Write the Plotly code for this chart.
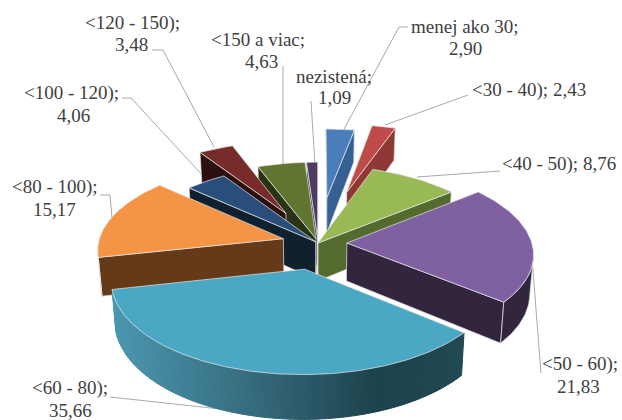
import numpy as np
import plotly.graph_objects as go

# ---- data ----
categories = ["menej ako 30", "<30 - 40)", "<40 - 50)", "<50 - 60)", "<60 - 80)",
              "<80 - 100)", "<100 - 120)", "<120 - 150)", "<150 a viac", "nezistená"]
values = [2.90, 2.43, 8.76, 21.83, 35.66, 15.17, 4.06, 3.48, 4.63, 1.09]
value_labels = ["2,90", "2,43", "8,76", "21,83", "35,66", "15,17", "4,06", "3,48", "4,63", "1,09"]

# ---- styling ----
explode = [0.56, 0.65, 0.0, 0.156, 0.30, 0.195, 0.02, 0.40, 0.05, 0.05]
top_colors = ["#4a7ebb", "#be4b48", "#98b954", "#7f60a1", "#4aa8c4",
              "#f69445", "#2a4e7b", "#772c2a", "#5f7530", "#4d3b62"]
side_colors = ["#376092", "#8f3836", "#556a2f", "#32263f", "#2a6070",
               "#643a19", "#0f202f", "#2c0f0f", "#2a3315", "#30243f"]
draw_order = [9, 8, 7, 0, 1, 2, 6, 5, 3, 4]
edge = "rgba(228,228,228,0.9)"

CX, CY, A, B, K, THICK, SHRINK = 318.0, 243.0, 185.0, 86.5, 0.117, 38.0, 0.983
GRAD = [(0.0, (75, 151, 176)), (0.5, (47, 95, 111)), (0.75, (28, 66, 76)), (1.0, (33, 73, 82))]


def project(X, Y):
    w = 1 + K * Y
    return CX + A * X / w, CY - B * Y / w, w


def lower(p):
    return CX + (p[0] - CX) * SHRINK, p[1] + THICK / p[2]


def grad_color(t):
    xs = [g[0] for g in GRAD]
    rgb = [np.interp(t, xs, [g[1][i] for g in GRAD]) for i in range(3)]
    return "rgb(%d,%d,%d)" % tuple(int(round(c)) for c in rgb)


fig = go.Figure()


def poly(xs, ys, fill, line=None, width=0.8):
    fig.add_trace(go.Scatter(
        x=list(xs), y=list(ys), mode="lines", fill="toself", fillcolor=fill,
        line=dict(color=line or fill, width=width), hoverinfo="skip", showlegend=False))


def side(path, fill, line=None, width=0.8):
    # hanging side face below a run of points of the top outline
    low = [lower(p) for p in path]
    xs = [p[0] for p in path] + [p[0] for p in low[::-1]] + [path[0][0]]
    ys = [p[1] for p in path] + [p[1] for p in low[::-1]] + [path[0][1]]
    poly(xs, ys, fill, line, width)


def faces_viewer(a, b):
    # top outline runs clockwise on screen; outward normal must point down the screen
    return (b[0] - a[0]) < 0


# ---- leader lines ----
leaders = [
    ([343, 399, 408], [131, 27, 27]),
    ([385, 468], [125, 95]),
    ([417, 500], [177, 171]),
    ([532, 541], [258, 373]),
    ([110, 257, 268], [397, 413, 415]),
    ([100, 110, 112], [195, 195, 218]),
    ([122, 131, 205], [98, 98, 178]),
    ([152, 163, 214], [50, 50, 147]),
    ([283, 283], [66, 166]),
    ([311, 315], [101, 165]),
]
for lx, ly in leaders:
    fig.add_trace(go.Scatter(x=lx, y=ly, mode="lines", line=dict(color="#a9a9a9", width=1),
                             hoverinfo="skip", showlegend=False))

# ---- wedges, computed from the values ----
total = sum(values)
edges = np.concatenate([[0], np.cumsum(values)]) / total * 2 * np.pi

for i in draw_order:
    t0, t1 = edges[i], edges[i + 1]
    mid = (t0 + t1) / 2
    ox, oy = explode[i] * np.sin(mid), explode[i] * np.cos(mid)
    thetas = np.linspace(t0, t1, max(4, int(np.degrees(t1 - t0)) + 1))
    arc = [project(ox + np.sin(t), oy + np.cos(t)) for t in thetas]
    tip = project(ox, oy)

    # only the side faces turned to the viewer are drawn
    if faces_viewer(tip, arc[0]):
        side([tip, arc[0]], side_colors[i], edge)
    if faces_viewer(arc[-1], tip):
        side([arc[-1], tip], side_colors[i], edge)
    front = [(a, b) for a, b in zip(arc[:-1], arc[1:]) if faces_viewer(a, b)]
    if categories[i] == "<60 - 80)":
        xmin = min(p[0] for p in arc)
        xmax = max(p[0] for p in arc)
        for a, b in front:
            c = grad_color(((a[0] + b[0]) / 2 - xmin) / (xmax - xmin))
            side([a, b], c, c, 1)
    elif front:
        path = [front[0][0]] + [b for _, b in front]
        side(path, side_colors[i], edge)

    xs = [tip[0]] + [p[0] for p in arc] + [tip[0]]
    ys = [tip[1]] + [p[1] for p in arc] + [tip[1]]
    poly(xs, ys, top_colors[i], edge)

# ---- labels: one annotation per text line, centred on these pixels ----
label_lines = {
    "menej ako 30": [(465, 26), (465, 48)],
    "<30 - 40)": [(529, 90)],
    "<40 - 50)": [(559, 164)],
    "<50 - 60)": [(580, 364), (578, 386)],
    "<60 - 80)": [(70, 388), (70, 410)],
    "<80 - 100)": [(55, 187), (54, 209)],
    "<100 - 120)": [(71, 93), (73, 115)],
    "<120 - 150)": [(132, 23), (131, 44)],
    "<150 a viac": [(258, 39), (261, 61)],
    "nezistená": [(334, 76), (334, 97)],
}
for name, val in zip(categories, value_labels):
    spots = label_lines[name]
    texts = [f"{name};", val] if len(spots) == 2 else [f"{name}; {val}"]
    for (x, y), t in zip(spots, texts):
        fig.add_annotation(x=x, y=y, text=t, showarrow=False, xanchor="center", yanchor="middle",
                           font=dict(family="Liberation Serif", size=19, color="#404040"))

fig.update_layout(
    width=622, height=420, margin=dict(l=0, r=0, t=0, b=0),
    paper_bgcolor="white", plot_bgcolor="white", showlegend=False,
    xaxis=dict(range=[0, 622], visible=False, fixedrange=True),
    yaxis=dict(range=[420, 0], visible=False, fixedrange=True),
)
fig.write_html("out.html", config={"displayModeBar": False},
               post_script="document.body.style.margin='0';")
